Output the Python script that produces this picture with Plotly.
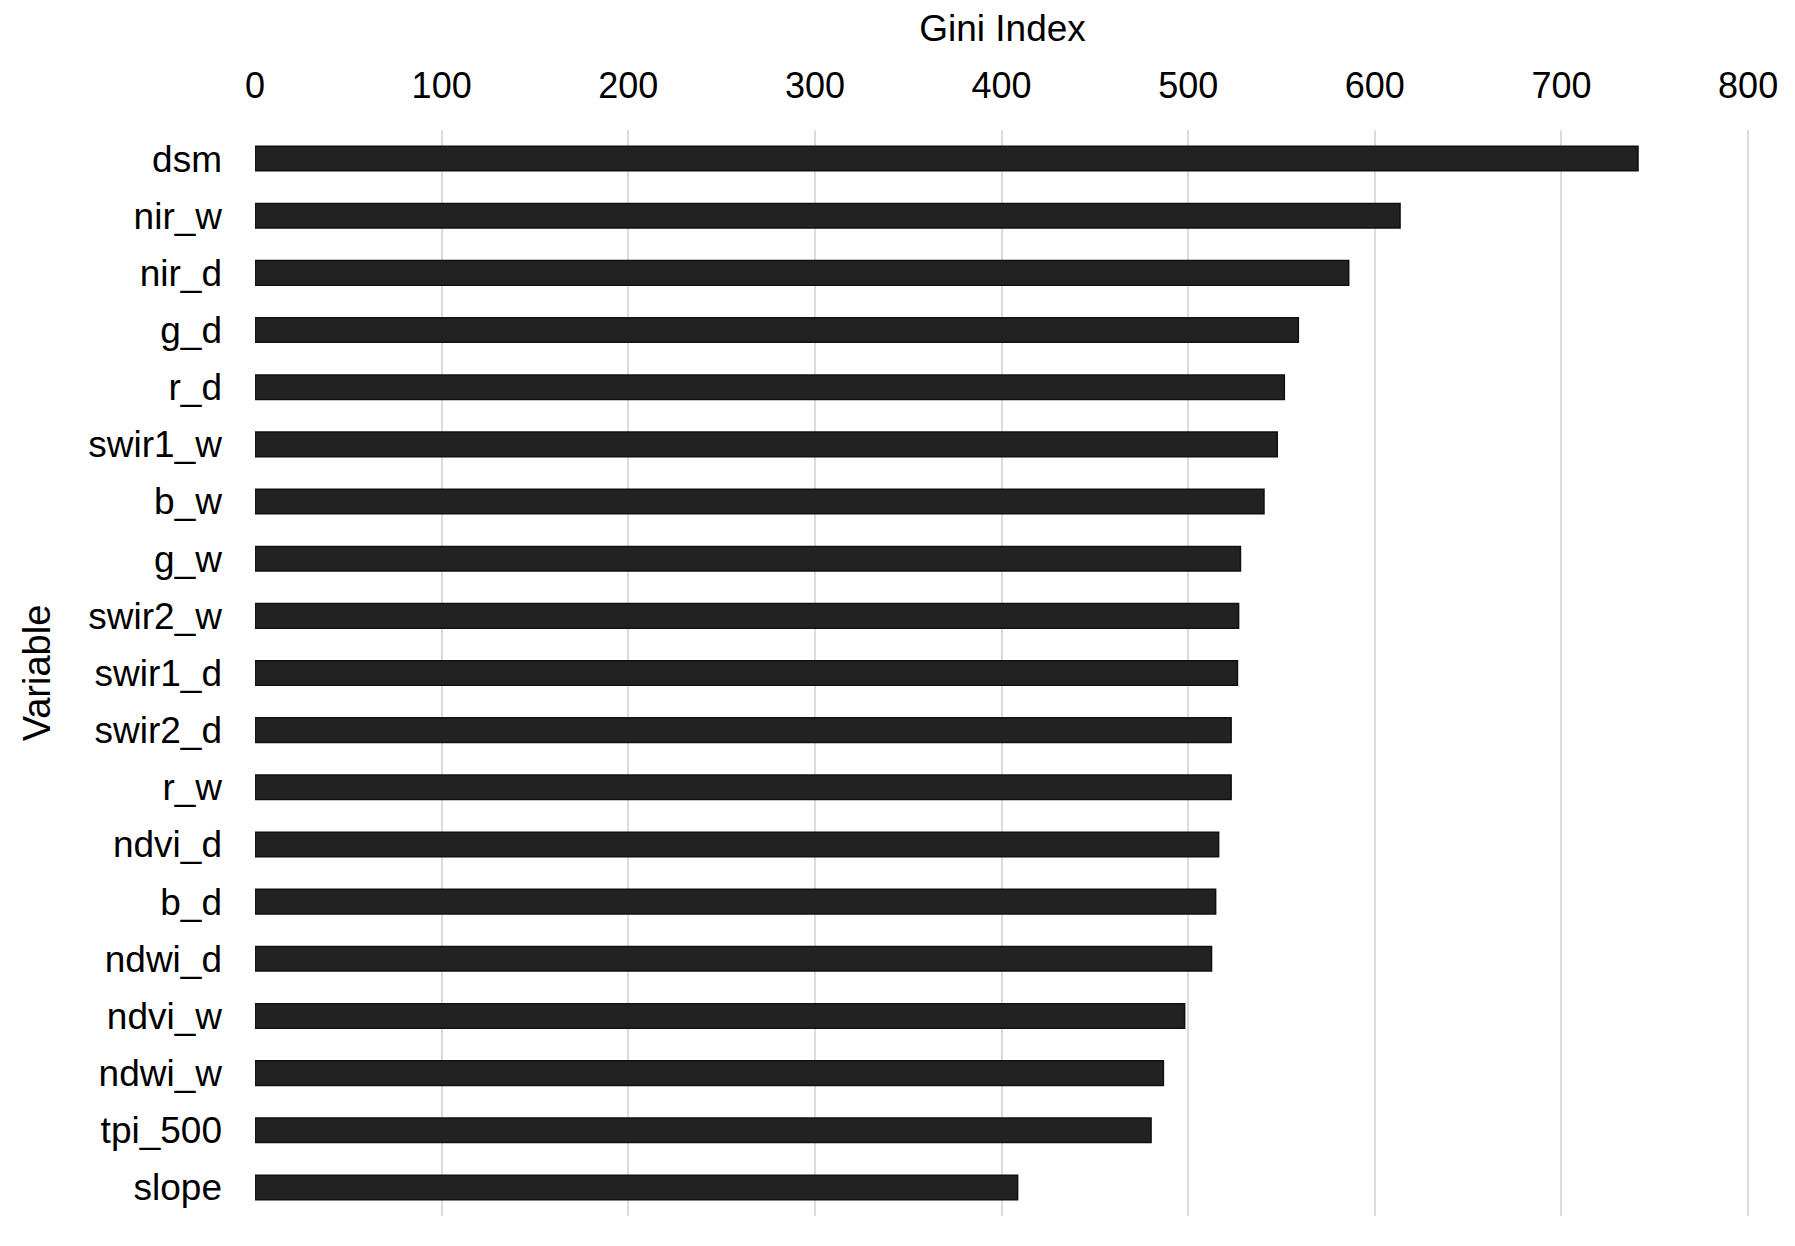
import plotly.graph_objects as go

variables = ["dsm", "nir_w", "nir_d", "g_d", "r_d", "swir1_w", "b_w", "g_w",
             "swir2_w", "swir1_d", "swir2_d", "r_w", "ndvi_d", "b_d", "ndwi_d",
             "ndvi_w", "ndwi_w", "tpi_500", "slope"]
gini = [741, 613.5, 586, 559, 551.5, 547.7, 540.6, 528, 527, 526.4, 523, 523,
        516.3, 514.7, 512.5, 498.1, 486.7, 480.1, 408.6]
x_ticks = [0, 100, 200, 300, 400, 500, 600, 700, 800]

fig = go.Figure(go.Bar(
    x=gini, y=variables, orientation="h",
    marker=dict(color="#222222", line=dict(color="#111111", width=1.5)),
    width=0.43,
))

font_family = "Liberation Sans, Arial, sans-serif"
fig.update_layout(
    width=1795, height=1246,
    margin=dict(l=247, r=53, t=122, b=38),
    plot_bgcolor="white", paper_bgcolor="white",
    font=dict(family=font_family, size=36, color="black"),
    showlegend=False,
)
fig.update_xaxes(
    side="top", range=[0, 801], tickvals=x_ticks,
    showgrid=True, gridcolor="#dcdcdc", gridwidth=2,
    zeroline=False, showline=False, ticks="",
    tickfont=dict(size=36), ticklabelstandoff=24,
    title=dict(text="Gini Index", font=dict(size=37), standoff=12),
)
fig.update_yaxes(
    categoryorder="array", categoryarray=variables, autorange="reversed",
    showgrid=False, zeroline=False, showline=False, ticks="",
    tickfont=dict(size=37), ticklabelstandoff=32,
    title=dict(text="Variable", font=dict(size=38), standoff=26),
)

fig.write_html("out.html")
